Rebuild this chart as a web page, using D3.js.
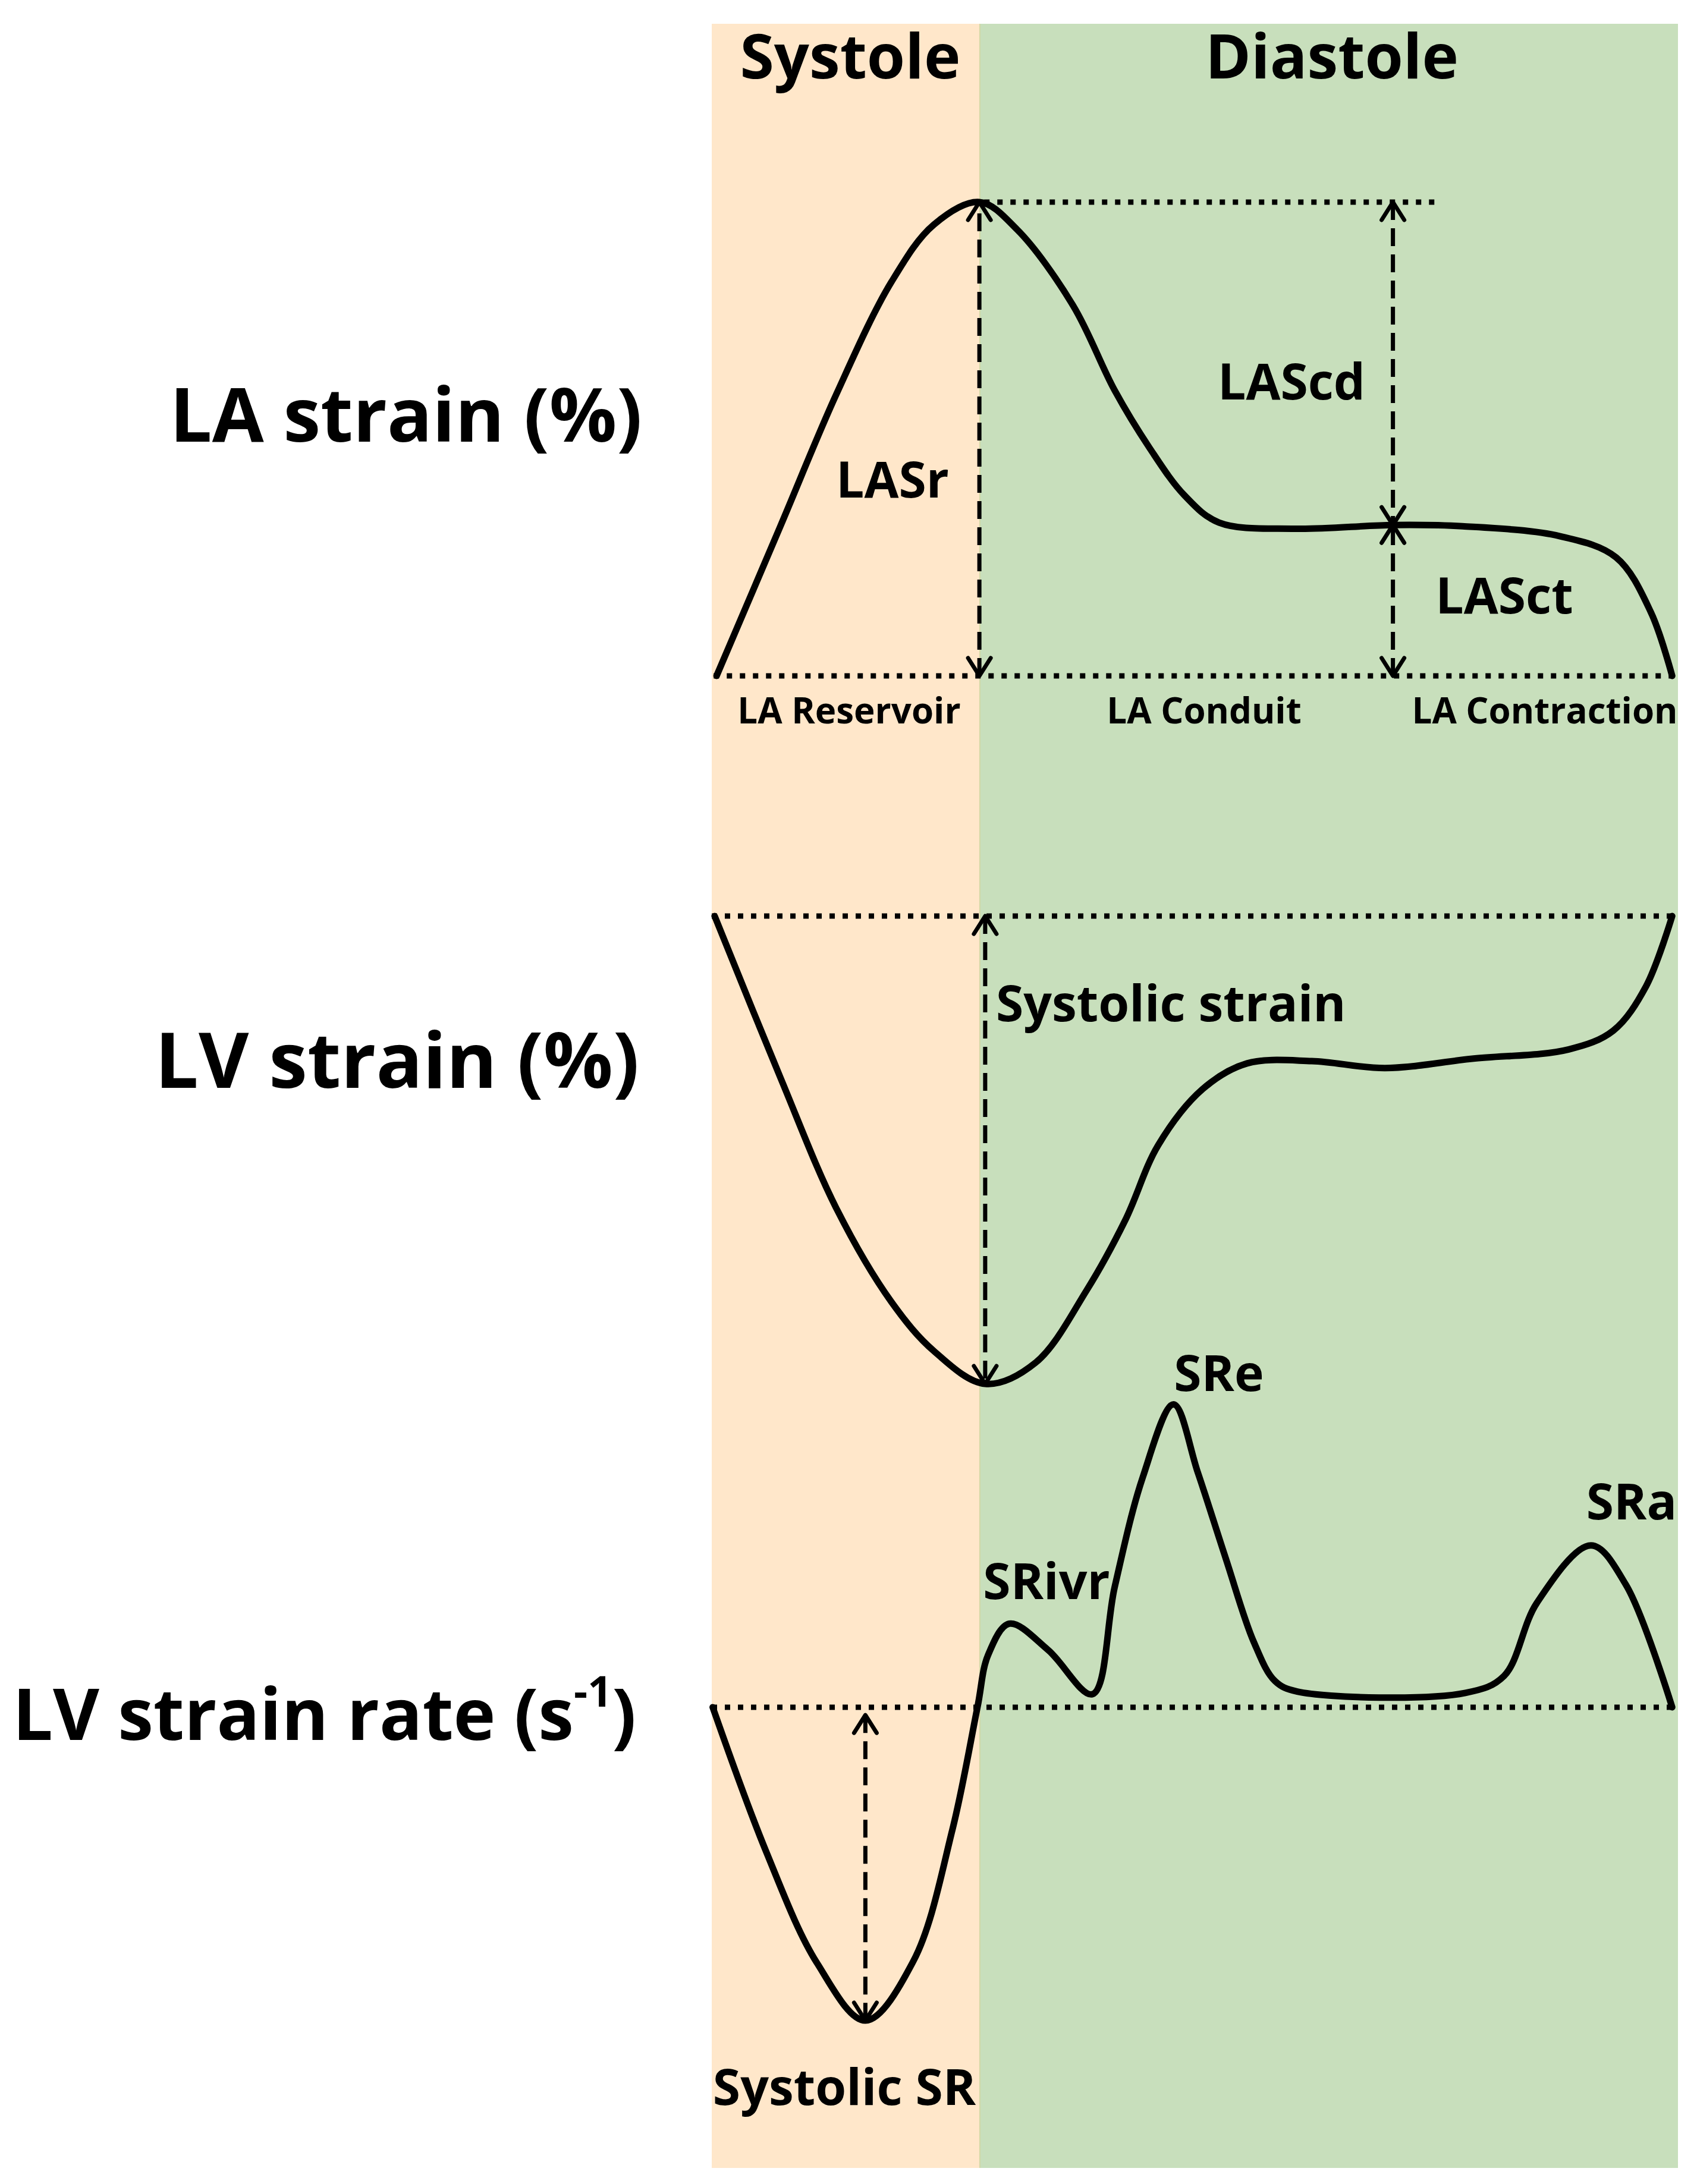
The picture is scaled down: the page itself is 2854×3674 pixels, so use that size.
<!DOCTYPE html>
<html>
<head>
<meta charset="utf-8">
<script src="https://cdn.jsdelivr.net/npm/d3@7"></script>
<style>
  body { margin: 0; background: #fff; }
  svg { display: block; font-family: "Open Sans", sans-serif; font-weight: 700; }
</style>
</head>
<body>
<div id="chart"></div>
<script>
var W = 2854, H = 3674;

// time axis: % of one cardiac cycle
var phaseNames = ['Systole', 'Diastole'];
var phaseBounds = [0, 27.75, 100];

// LA strain (%)
var laStrain = [
  [0.5, 0], [7.1, 12.0], [12.9, 22.6], [18.6, 31.6], [23.0, 36.2], [27.7, 38],
  [31.6, 35.8], [37.4, 29.7], [41.7, 22.9], [45.3, 18.3], [48.9, 14.5], [52.5, 12.3],
  [60.4, 11.8], [70.5, 12.1], [77.7, 12.0], [87.8, 11.2], [93.6, 9.5], [97.2, 5.1], [99.4, 0]
];
// LV strain (%)
var lvStrain = [
  [0.3, 0], [7.1, -6.9], [12.9, -12.5], [18.6, -16.5], [23.0, -18.6], [28.3, -20],
  [33.5, -19.1], [38.8, -16.0], [42.8, -13.0], [46.2, -9.8], [50.8, -7.4], [55.4, -6.3],
  [62.1, -6.2], [69.7, -6.5], [78.7, -6.1], [88.7, -5.7], [93.3, -4.9], [96.7, -3.0], [99.4, 0]
];
// LV strain rate (1/s)
var lvStrainRate = [
  [0.1, 0], [5.6, -0.55], [10.9, -0.98], [15.9, -1.2], [20.9, -0.97], [24.9, -0.47],
  [27.5, 0], [28.6, 0.2], [30.8, 0.32], [34.8, 0.22], [39.4, 0.05], [41.7, 0.46],
  [44.6, 0.88], [47.8, 1.16], [50.3, 0.9], [53.2, 0.57], [56.1, 0.25], [58.3, 0.1],
  [60.6, 0.06], [78.0, 0.055], [82.0, 0.12], [85.4, 0.40], [91.0, 0.62], [94.6, 0.47], [99.4, 0]
];

// reference levels: [value, tStart, tEnd]
var laGuides = [[38, 28.2, 75.1], [0, 0.2, 99.3]];
var lvGuides = [[0, 0, 100]];
var srGuides = [[0, 0, 100]];

// measurement arrows: [t, from, to]
var laArrows = [[27.7, 0, 38], [70.5, 38, 12.1], [70.5, 0, 12.1]];
var lvArrows = [[28.3, 0, -20]];
var srArrows = [[15.9, -0.03, -1.2]];

var laLabels = ['LASr', 'LAScd', 'LASct'];
var laPhaseLabels = ['LA Reservoir', 'LA Conduit', 'LA Contraction'];

var x = d3.scaleLinear().domain([0, 100]).range([1197, 2822]);
var yLA = d3.scaleLinear().domain([0, 38]).range([1137, 340]);
var yLV = d3.scaleLinear().domain([-20, 0]).range([2328, 1541]);
var ySR = d3.scaleLinear().domain([-1.2, 0]).range([3399, 2872]);

var svg = d3.select('#chart').append('svg')
  .attr('width', W)
  .attr('height', H);

svg.append('rect').attr('width', W).attr('height', H).attr('fill', '#fff');

// systole / diastole bands
var bandTop = 40, bandBottom = 3647;
var bandColors = ['#ffe7ca', '#c8dfbc'];
phaseNames.forEach(function (p, i) {
  svg.append('rect')
    .attr('x', x(phaseBounds[i]))
    .attr('y', bandTop)
    .attr('width', x(phaseBounds[i + 1]) - x(phaseBounds[i]))
    .attr('height', bandBottom - bandTop)
    .attr('fill', bandColors[i]);
});
svg.append('line')
  .attr('x1', x(phaseBounds[1])).attr('x2', x(phaseBounds[1]))
  .attr('y1', bandTop).attr('y2', bandBottom)
  .attr('stroke', '#d3d8a6').attr('stroke-width', 2);

phaseNames.forEach(function (p, i) {
  svg.append('text')
    .attr('x', i === 0 ? 1430 : 2240)
    .attr('y', 132)
    .attr('text-anchor', 'middle')
    .attr('font-size', 104)
    .text(p);
});

// panel titles
var titles = svg.append('g').attr('text-anchor', 'end').attr('font-size', 126);
titles.append('text').attr('x', 1080).attr('y', 743).text('LA strain (%)');
titles.append('text').attr('x', 1075).attr('y', 1830).attr('font-size', 130).text('LV strain (%)');
var srTitle = titles.append('text').attr('x', 1070).attr('y', 2927).attr('font-size', 120);
srTitle.append('tspan').text('LV strain rate (s');
srTitle.append('tspan').attr('font-size', 72).attr('dy', -56).text('-1');
srTitle.append('tspan').attr('dy', 56).text(')');

function drawGuides(guides, yScale) {
  svg.append('g').selectAll('line')
    .data(guides)
    .enter()
    .append('line')
    .attr('x1', d => x(d[1]))
    .attr('x2', d => x(d[2]))
    .attr('y1', d => yScale(d[0]))
    .attr('y2', d => yScale(d[0]))
    .attr('stroke', '#000')
    .attr('stroke-width', 9)
    .attr('stroke-dasharray', '9 13');
}

function drawCurve(data, yScale) {
  var lineGen = d3.line()
    .x(d => x(d[0]))
    .y(d => yScale(d[1]))
    .curve(d3.curveCatmullRom.alpha(0.5));
  svg.append('path')
    .attr('d', lineGen(data))
    .attr('fill', 'none')
    .attr('stroke', '#000')
    .attr('stroke-width', 11)
    .attr('stroke-linejoin', 'round')
    .attr('stroke-linecap', 'round');
}

function drawArrows(arrows, yScale) {
  var g = svg.append('g')
    .attr('stroke', '#000')
    .attr('fill', 'none')
    .attr('stroke-linecap', 'round');
  arrows.forEach(function (a) {
    var ax = x(a[0]), y1 = yScale(a[1]), y2 = yScale(a[2]);
    g.append('line')
      .attr('x1', ax).attr('x2', ax)
      .attr('y1', y1).attr('y2', y2)
      .attr('stroke-width', 7)
      .attr('stroke-dasharray', '30 14')
      .attr('stroke-linecap', 'butt');
    // open arrow heads on both ends
    [[y1, y2], [y2, y1]].forEach(function (e) {
      var dir = e[0] < e[1] ? 1 : -1; // head at e[0], pointing away from e[1]
      g.append('path')
        .attr('d', `M${ax - 19},${e[0] + dir * 30} L${ax},${e[0]} L${ax + 19},${e[0] + dir * 30}`)
        .attr('stroke-width', 7)
        .attr('stroke-linejoin', 'round');
    });
  });
}

// LA strain panel
drawGuides(laGuides, yLA);
drawCurve(laStrain, yLA);
drawArrows(laArrows, yLA);

// LV strain panel
drawGuides(lvGuides, yLV);
drawCurve(lvStrain, yLV);
drawArrows(lvArrows, yLV);

// LV strain rate panel
drawGuides(srGuides, ySR);
drawCurve(lvStrainRate, ySR);
drawArrows(srArrows, ySR);

// annotations
var ann = svg.append('g').attr('font-size', 84).attr('text-anchor', 'middle');
ann.append('text').attr('x', 1501).attr('y', 837).text(laLabels[0]);
ann.append('text').attr('x', 2172).attr('y', 672).text(laLabels[1]);
ann.append('text').attr('x', 2530).attr('y', 1032).text(laLabels[2]);
ann.append('text').attr('x', 1675).attr('y', 1718).attr('text-anchor', 'start').text('Systolic strain');
ann.append('text').attr('x', 2050).attr('y', 2340).text('SRe');
ann.append('text').attr('x', 2744).attr('y', 2556).text('SRa');
ann.append('text').attr('x', 1760).attr('y', 2690).text('SRivr');
ann.append('text').attr('x', 1420).attr('y', 3541).text('Systolic SR');

var phaseLab = svg.append('g').attr('font-size', 60).attr('text-anchor', 'middle');
[1428, 2025, 2598].forEach(function (cx, i) {
  phaseLab.append('text').attr('x', cx).attr('y', 1217).text(laPhaseLabels[i]);
});
</script>
</body>
</html>
